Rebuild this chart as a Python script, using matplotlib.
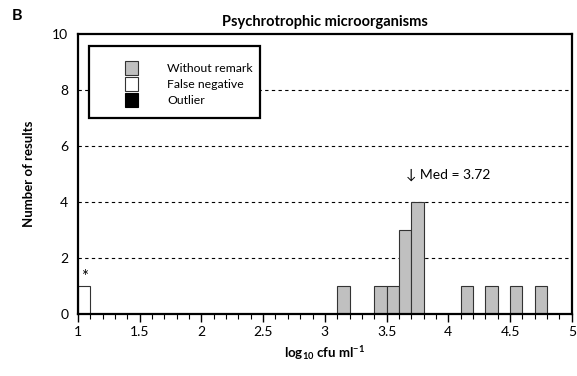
import matplotlib.pyplot as plt
from matplotlib.patches import Patch, Rectangle
from matplotlib.ticker import MultipleLocator

plt.rcParams['font.family'] = ['Lato', 'DejaVu Sans']
plt.rcParams['mathtext.fontset'] = 'custom'
plt.rcParams['mathtext.rm'] = 'Lato:bold'
plt.rcParams['mathtext.bf'] = 'Lato:bold'

# histogram bins (left edges, width 0.1 log units)
bin_width = 0.1
ok_bins = [3.1, 3.4, 3.5, 3.6, 3.7, 4.1, 4.3, 4.5, 4.7]
ok_counts = [1, 1, 1, 3, 4, 1, 1, 1, 1]
fn_bins = [1.0]
fn_counts = [1]
outlier_bins = []
outlier_counts = []
median = 3.72

fig = plt.figure(figsize=(5.77, 3.76), dpi=100)
ax = fig.add_axes([0.135, 0.165, 0.856, 0.745])

for y in [2, 4, 6, 8]:
    ax.axhline(y, color='black', lw=0.8, ls=(0, (3, 3)), zorder=0)

ax.bar(ok_bins, ok_counts, width=bin_width, align='edge', color='#c0c0c0',
       edgecolor='#333333', lw=0.8, zorder=2)
ax.bar(fn_bins, fn_counts, width=bin_width, align='edge', color='white',
       edgecolor='#333333', lw=0.8, zorder=2)
ax.bar(outlier_bins, outlier_counts, width=bin_width, align='edge', color='black',
       edgecolor='black', lw=0.8, zorder=2)

ax.text(fn_bins[0] + bin_width / 2, fn_counts[0] + 0.02, '*', ha='center', va='bottom', fontsize=12)
ax.text(median - 0.06, 4.75, '\u2193 Med = %.2f' % median, ha='left', va='bottom', fontsize=10)

ax.set_xlim(1, 5)
ax.set_ylim(0, 10)
ax.xaxis.set_major_locator(MultipleLocator(0.5))
ax.xaxis.set_minor_locator(MultipleLocator(0.1))
ax.xaxis.set_major_formatter(lambda v, p: '%g' % v)
ax.yaxis.set_major_locator(MultipleLocator(2))
ax.tick_params(axis='x', which='major', direction='out', length=6, width=1, labelsize=10, pad=3)
ax.tick_params(axis='x', which='minor', direction='out', length=3.5, width=0.8)
ax.tick_params(axis='y', length=0, labelsize=10, pad=7)
for s in ax.spines.values():
    s.set_linewidth(1.6)

ax.set_xlabel('log$_{10}$ cfu ml$^{-1}$', fontweight='bold', fontsize=9.5, labelpad=4)
ax.set_ylabel('Number of results', fontweight='bold', fontsize=9.5, labelpad=12)
ax.set_title('Psychrotrophic microorganisms', fontweight='bold', fontsize=10.5, pad=6)
fig.text(0.02, 0.958, 'B', fontweight='bold', fontsize=11.5, ha='left', va='center')

# legend box
ax.add_patch(Rectangle((0.022, 0.70), 0.346, 0.255, transform=ax.transAxes,
                       facecolor='white', edgecolor='black', lw=1.6, zorder=3))
handles = [Patch(facecolor='#c0c0c0', edgecolor='#333333', lw=0.8, label='Without remark'),
           Patch(facecolor='white', edgecolor='#333333', lw=0.8, label='False negative'),
           Patch(facecolor='black', edgecolor='black', lw=0.8, label='Outlier')]
leg = ax.legend(handles=handles, loc='upper left', bbox_to_anchor=(0.082, 0.925),
                frameon=False, fontsize=8.8, handlelength=1.1, handleheight=1.38,
                handletextpad=2.4, labelspacing=0.15, borderpad=0)
leg.set_zorder(4)

fig.savefig('out.png', dpi=100)
